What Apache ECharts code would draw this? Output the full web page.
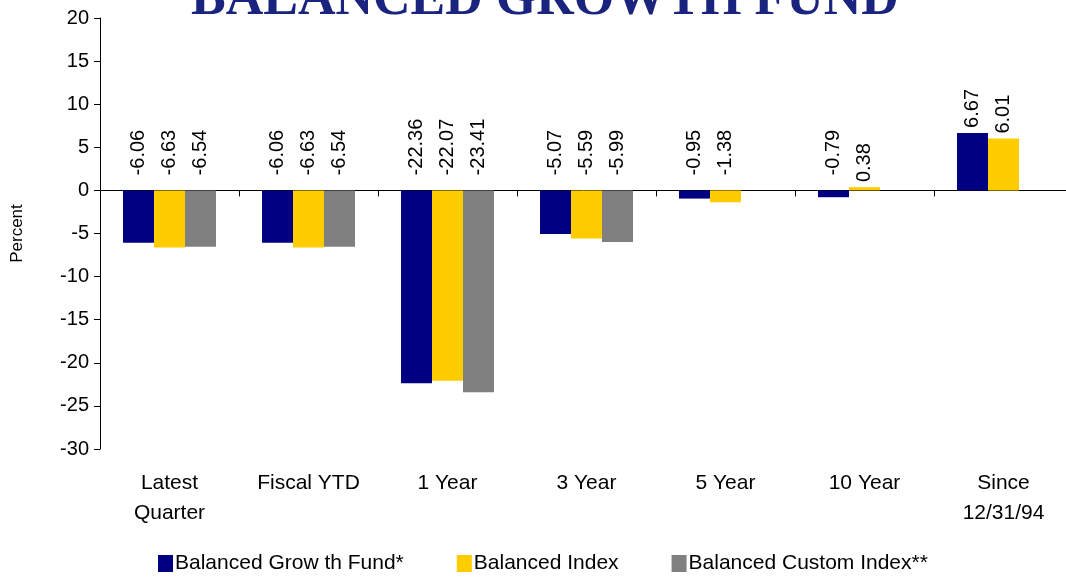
<!DOCTYPE html>
<html lang="en">
<head>
    <meta charset="UTF-8">
    <style>
        body { margin: 0; background: #fff; }
        #main { width: 1066px; height: 580px; }
    </style>
    <title>Balanced Growth Fund</title>
</head>
<body>
    <div id="main"></div>
    <script src="https://cdn.jsdelivr.net/npm/echarts@6/dist/echarts.min.js"></script>
    <script>
        var categories = ['Latest\nQuarter', 'Fiscal YTD', '1 Year', '3 Year', '5 Year', '10 Year', 'Since\n12/31/94'];
        var fund = [-6.06, -6.06, -22.36, -5.07, -0.95, -0.79, 6.67];
        var balancedIndex = [-6.63, -6.63, -22.07, -5.59, -1.38, 0.38, 6.01];
        var customIndex = [-6.54, -6.54, -23.41, -5.99, null, null, null];
        var seriesNames = ['Balanced Grow th Fund*', 'Balanced Index', 'Balanced Custom Index**'];
        var colors = ['#000080', '#ffcc00', '#808080'];

        var FONT = 'Liberation Sans, Arial';

        // negative bars: label sits a bit higher above the zero line
        function items(arr) {
            return arr.map(function (v) {
                if (v == null) return null;
                return { value: v, label: { distance: v < 0 ? 15 : 5 } };
            });
        }

        function bar(name, data, color) {
            return {
                name: name,
                type: 'bar',
                xAxisIndex: 0,
                data: items(data),
                barWidth: 31,
                barGap: 0,
                itemStyle: { color: color },
                label: {
                    show: true,
                    position: 'top',
                    rotate: 90,
                    align: 'left',
                    verticalAlign: 'middle',
                    fontFamily: FONT,
                    fontSize: 20,
                    color: '#000',
                    formatter: function (p) { return p.value.toFixed(2); }
                }
            };
        }

        var option = {
            animation: false,
            title: {
                text: 'BALANCED GROWTH FUND',
                left: 186,
                top: -30,
                textStyle: {
                    fontFamily: 'Liberation Serif, Times New Roman',
                    fontWeight: 'bold',
                    fontSize: 52,
                    color: '#1a237e'
                }
            },
            legend: {
                bottom: 1,
                left: 153,
                icon: 'rect',
                itemWidth: 15,
                itemHeight: 17,
                itemGap: 53,
                textStyle: { fontFamily: FONT, fontSize: 21, color: '#000', padding: [0, 0, 0, -3] },
                data: seriesNames
            },
            grid: { left: 100, right: -7, top: 18, bottom: 131, outerBoundsMode: 'none', containLabel: false },
            xAxis: [{
                type: 'category',
                data: categories,
                axisLine: { onZero: true, lineStyle: { color: '#000' } },
                axisTick: { show: true, length: 6, lineStyle: { color: '#000' } },
                axisLabel: { show: false }
            }, {
                type: 'category',
                data: categories,
                position: 'bottom',
                axisLine: { show: false, onZero: false },
                axisTick: { show: false },
                axisLabel: {
                    margin: 19,
                    fontFamily: FONT,
                    fontSize: 21,
                    lineHeight: 30,
                    color: '#000'
                }
            }],
            yAxis: {
                type: 'value',
                min: -30,
                max: 20,
                interval: 5,
                name: 'Percent',
                nameLocation: 'middle',
                nameGap: 74,
                nameTextStyle: { fontFamily: FONT, fontSize: 17, color: '#000' },
                axisLine: { show: true, lineStyle: { color: '#000' } },
                axisTick: { show: true, length: 6, lineStyle: { color: '#000' } },
                splitLine: { show: false },
                axisLabel: { fontFamily: FONT, fontSize: 20, color: '#000', margin: 11 }
            },
            series: [
                bar(seriesNames[0], fund, colors[0]),
                bar(seriesNames[1], balancedIndex, colors[1]),
                bar(seriesNames[2], customIndex, colors[2])
            ]
        };

        var myChart = echarts.init(document.getElementById('main'));
        myChart.setOption(option);
    </script>
</body>
</html>
